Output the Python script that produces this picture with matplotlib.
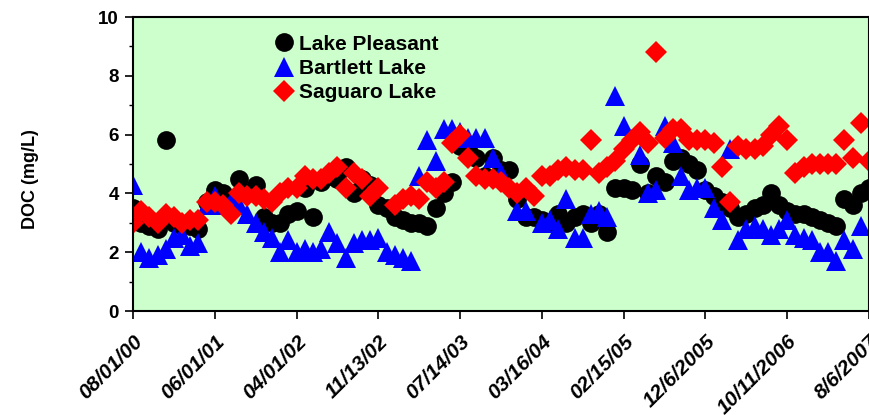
import numpy as np
import matplotlib
matplotlib.use("Agg")
import matplotlib.pyplot as plt

plt.rcParams["font.family"] = ["Liberation Sans", "DejaVu Sans"]

# sampling events (category axis, one label every 10 samples)
tick_labels = ["08/01/00", "06/01/01", "04/01/02", "11/13/02", "07/14/03",
               "03/16/04", "02/15/05", "12/6/2005", "10/11/2006", "8/6/2007"]
n_samples = 91

pleasant = [3.5, 3.0, 2.9, 2.8, 5.8, 3.0, 2.9, 2.9, 2.8, 3.7,
            4.1, 4.0, 3.8, 4.5, 4.0, 4.3, 3.2, 3.0, 3.0, 3.3,
            3.4, 4.2, 3.2, 4.4, 4.6, 4.5, 4.9, 4.0, 4.5, 4.3,
            3.6, 3.5, 3.2, 3.1, 3.0, 3.0, 2.9, 3.5, 4.0, 4.4,
            5.6, 5.5, 5.2, 4.6, 5.2, 4.8, 4.8, 3.8, 3.2, 3.2,
            3.1, 3.0, 3.3, 3.0, 3.2, 3.3, 3.0, 3.3, 2.7, 4.2,
            4.2, 4.1, 5.0, 4.0, 4.6, 4.4, 5.1, 5.2, 5.0, 4.8,
            4.1, 3.9, 3.7, 3.5, 3.2, 3.3, 3.5, 3.6, 4.0, 3.6,
            3.4, 3.3, 3.3, 3.2, 3.1, 3.0, 2.9, 3.8, 3.6, 4.0,
            4.2]

bartlett = [4.3, 2.0, 1.8, 1.9, 2.1, 2.5, 2.6, 2.2, 2.3, 3.6,
            3.9, 3.6, 3.7, 3.6, 3.3, 3.0, 2.7, 2.5, 2.0, 2.4,
            2.0, 2.1, 2.0, 2.1, 2.7, 2.3, 1.8, 2.3, 2.4, 2.4,
            2.5, 2.0, 1.9, 1.8, 1.7, 4.6, 5.8, 5.1, 6.2, 6.2,
            6.1, 5.9, 5.9, 5.9, 5.2, 4.7, None, 3.4, 3.4, None,
            3.0, 3.1, 2.8, 3.8, 2.5, 2.5, 3.3, 3.4, 3.2, 7.3,
            6.3, None, 5.3, 4.0, 4.1, 6.3, 5.7, 4.6, 4.1, 4.2,
            4.2, 3.5, 3.1, 5.5, 2.4, 2.8, 2.9, 2.8, 2.6, 2.8,
            3.1, 2.6, 2.5, 2.4, 2.0, 2.0, 1.7, 2.4, 2.1, 2.9,
            None]

saguaro = [3.0, 3.4, 3.2, 3.0, 3.3, 3.2, 3.0, 3.1, 3.1, 3.7,
           3.7, 3.6, 3.3, 4.0, 3.9, 3.9, 3.8, 3.7, 4.0, 4.2,
           4.2, 4.6, 4.5, 4.5, 4.7, 4.9, 4.2, 4.7, 4.5, 3.9,
           4.2, None, 3.6, 3.8, 3.9, 3.8, 4.4, 4.2, 4.4, 5.7,
           6.0, 5.2, 4.6, 4.5, 4.5, 4.4, 4.2, 4.0, 4.2, 3.9,
           4.6, 4.6, 4.8, 4.9, 4.8, 4.8, 5.8, 4.7, 4.9, 5.1,
           5.5, 5.8, 6.1, 5.7, 8.8, 5.9, 6.2, 6.2, 5.8, 5.8,
           5.8, 5.7, 4.9, 3.7, 5.6, 5.5, 5.5, 5.6, 6.0, 6.3,
           5.8, 4.7, 4.9, 5.0, 5.0, 5.0, 5.0, 5.8, 5.2, 6.4,
           5.1]

x = np.arange(n_samples)

def arr(v):
    return np.array([np.nan if a is None else a for a in v], dtype=float)

fig = plt.figure(figsize=(8.7, 4.15), dpi=100)
ax = fig.add_axes([133 / 870, 1 - 311 / 415, 736 / 870, 294 / 415])
ax.set_facecolor("#CCFFCC")

ax.plot(x, arr(pleasant), "o", color="black", ms=13.5, mew=0, label="Lake Pleasant")
ax.plot(x, arr(bartlett), "^", color="#0000FF", ms=14.5, mew=0, label="Bartlett Lake")
ax.plot(x, arr(saguaro), "D", color="#FF0000", ms=11, mew=0, label="Saguaro Lake")

ax.set_xlim(0, n_samples - 1)
ax.set_ylim(0, 10)
ax.set_yticks(np.arange(0, 11, 2))
ax.set_yticks(np.arange(1, 10, 2), minor=True)
ax.set_xticks(np.arange(0, n_samples, 10))
ax.set_xticklabels(tick_labels, rotation=45, ha="right", rotation_mode="anchor",
                   fontsize=15, fontweight="bold", fontstyle="italic")
for lab in ax.get_yticklabels():
    lab.set_fontsize(13.5)
    lab.set_fontweight("bold")

ax.tick_params(axis="both", which="major", direction="out", length=6, width=1.2,
               color="black", pad=4)
ax.tick_params(axis="y", which="minor", direction="out", length=3, width=1.0)
ax.tick_params(axis="x", which="major", pad=9)
for s in ax.spines.values():
    s.set_linewidth(1.5)
    s.set_color("black")

ax.set_ylabel("DOC (mg/L)", fontsize=13, fontweight="bold")
ax.yaxis.set_label_coords(-0.128, 0.45)

ax.legend(loc="upper left", bbox_to_anchor=(0.165, 0.99), frameon=False,
          prop={"weight": "bold", "size": 15}, handletextpad=0.05,
          labelspacing=0.26, borderpad=0.2, handlelength=1.4)

fig.savefig("out.png", dpi=100)
